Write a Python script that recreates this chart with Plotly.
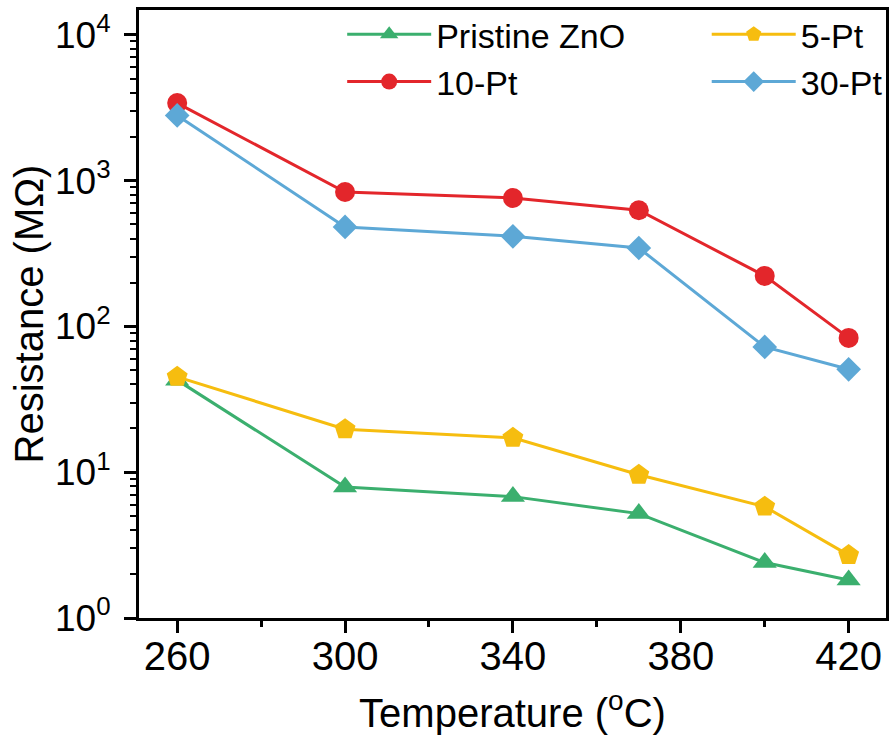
import plotly.graph_objects as go

temperature = [260, 300, 340, 370, 400, 420]
pristine_zno = [42.8, 7.9, 6.8, 5.2, 2.4, 1.82]
pt5 = [45.1, 19.7, 17.2, 9.6, 5.8, 2.7]
pt10 = [3400, 835, 760, 626, 222, 83.4]
pt30 = [2800, 481, 415, 345, 72.3, 50.8]

series_names = ["Pristine ZnO", "5-Pt", "10-Pt", "30-Pt"]
x_ticks = [260, 300, 340, 380, 420]
x_minor = [280, 320, 360, 400]
y_tick_exps = [0, 1, 2, 3, 4]

FONT = "Liberation Sans, Arial, sans-serif"

fig = go.Figure()
styles = [
    (pristine_zno, "#3BAF6E", "triangle-up", 21, "legend"),
    (pt5, "#F6BD0F", "pentagon", 22, "legend2"),
    (pt10, "#E3262B", "circle", 20, "legend"),
    (pt30, "#5DA8D6", "diamond", 19, "legend2"),
]
for name, (vals, color, sym, sz, lg) in zip(series_names, styles):
    fig.add_trace(go.Scatter(
        x=temperature, y=vals, name=name, mode="lines+markers",
        line=dict(color=color, width=3),
        marker=dict(symbol=sym, size=sz, color=color),
        legend=lg,
    ))

y_minor = [m * 10 ** e for e in y_tick_exps for m in range(2, 10)]

legend_common = dict(
    orientation="v", yanchor="top", xanchor="left",
    font=dict(size=34, family=FONT), bgcolor="rgba(0,0,0,0)",
    itemwidth=84, tracegroupgap=0, borderwidth=0,
)

fig.update_layout(
    width=893, height=752,
    margin=dict(l=139, r=4, t=10, b=134),
    paper_bgcolor="white", plot_bgcolor="white",
    font=dict(family=FONT, color="black"),
    showlegend=True,
    legend=dict(x=0.272, y=1.007, **legend_common),
    legend2=dict(x=0.76, y=1.007, **legend_common),
    xaxis=dict(
        range=[250.9, 428.9], tickvals=x_ticks, ticks="outside", ticklen=12, tickwidth=3,
        tickcolor="black", showline=True, linecolor="black", linewidth=3, mirror=True,
        showgrid=False, zeroline=False, tickfont=dict(size=40, family=FONT),
        ticklabelstandoff=-11,
        minor=dict(tickvals=x_minor, ticks="outside", ticklen=6, tickwidth=3, tickcolor="black", showgrid=False),
        title=dict(text="Temperature (<sup>o</sup>C)", font=dict(size=40, family=FONT), standoff=22),
    ),
    yaxis=dict(
        type="log", range=[0, 4.17],
        tickvals=[10 ** e for e in y_tick_exps],
        ticktext=["10<sup>%d</sup>" % e for e in y_tick_exps],
        ticks="outside", ticklen=12, tickwidth=3, tickcolor="black",
        showline=True, linecolor="black", linewidth=3, mirror=True,
        showgrid=False, zeroline=False, tickfont=dict(size=37, family=FONT),
        ticklabelstandoff=6,
        minor=dict(tickvals=y_minor, ticks="outside", ticklen=6, tickwidth=2, tickcolor="black", showgrid=False),
        title=dict(text="Resistance (MΩ)", font=dict(size=40, family=FONT), standoff=0),
    ),
)

fig.write_html(
    "out.html",
    config={"displayModeBar": False},
    post_script="document.body.style.margin='0';document.body.style.padding='0';",
)
